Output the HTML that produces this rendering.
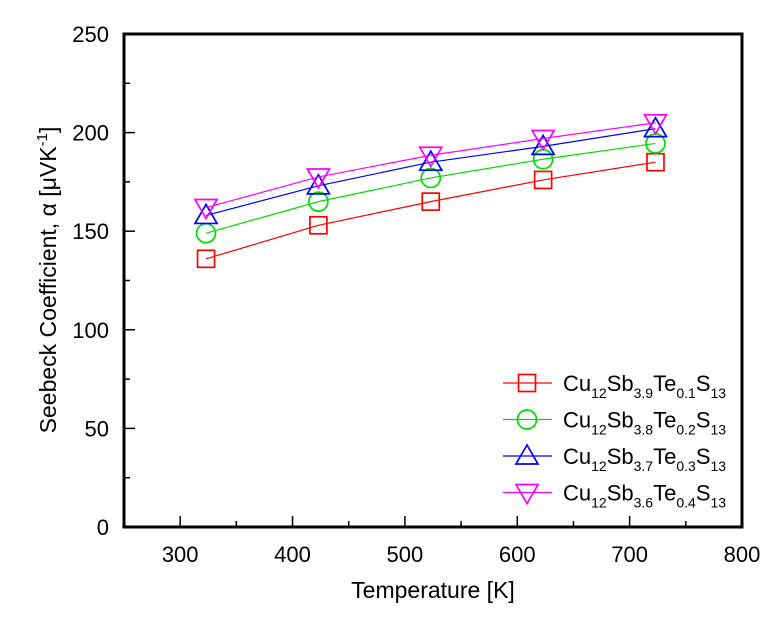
<!DOCTYPE html>
<html><head><meta charset="utf-8"><style>
body{margin:0;background:#fff;}
svg text{font-family:"Liberation Sans",Arial,sans-serif;}
</style></head><body>
<svg id="chart" width="783" height="612" viewBox="0 0 783 612"></svg>
<script>
const temps=[323,423,523,623,723];
const s1=[136,153,165,176,185];
const s2=[149,165,177,186.5,194.5];
const s3=[158,173,185,193,202];
const s4=[162,177.5,188.5,197,205];
const xTicks=[300,400,500,600,700,800];
const yTicks=[0,50,100,150,200,250];
const names=[["12","3.9","0.1"],["12","3.8","0.2"],["12","3.7","0.3"],["12","3.6","0.4"]];
const X0=124,X1=742,Y0=527,Y1=34;
const xs=v=>X0+(v-250)/(800-250)*(X1-X0);
const ys=v=>Y0-(v/250)*(Y0-Y1);
const svg=document.getElementById('chart');
const NS='http://www.w3.org/2000/svg';
function mk(t,a,p){const e=document.createElementNS(NS,t);for(const k in a)e.setAttribute(k,a[k]);(p||svg).appendChild(e);return e;}
const frame=mk('rect',{x:X0,y:Y1,width:X1-X0,height:Y0-Y1,fill:'none',stroke:'#000','stroke-width':3});


for(let v=250;v<=800;v+=50){
  if(v===250||v===800)continue;
  const big=v%100===0;
  const t=mk('line',{x1:xs(v),x2:xs(v),y1:Y0,y2:Y0-(big?11:6),stroke:'#000','stroke-width':1.5});
  
  
}
xTicks.forEach(v=>{
  const t=mk('text',{x:xs(v),y:Y0+35,'text-anchor':'middle','font-size':22});
  t.textContent=v;
  
  
});
for(let v=25;v<250;v+=25){
  const big=v%50===0;
  const t=mk('line',{x1:X0,x2:X0+(big?11:6),y1:ys(v),y2:ys(v),stroke:'#000','stroke-width':1.5});
  
  
}
yTicks.forEach(v=>{
  const t=mk('text',{x:X0-15,y:ys(v)+8,'text-anchor':'end','font-size':22});
  t.textContent=v;
  
  
});
const xt=mk('text',{x:433,y:598,'text-anchor':'middle','font-size':23});
xt.textContent='Temperature [K]';


const yt=mk('text',{x:0,y:0,'text-anchor':'middle','font-size':23,transform:'translate(56,280) rotate(-90)'});
yt.innerHTML='Seebeck Coefficient, α [μVK<tspan dy="-9" font-size="15">-1</tspan><tspan dy="9">]</tspan>';


const colors=['#ff0000','#00dd00','#0000ff','#ff00ff'];
const kinds=['sq','ci','tu','td'];
function marker(kind,cx,cy,c,g){
  let e;
  if(kind==='sq')e=mk('rect',{x:cx-8.5,y:cy-8.5,width:17,height:17,fill:'none',stroke:c,'stroke-width':1.7},g);
  else if(kind==='ci')e=mk('circle',{cx:cx,cy:cy,r:9.5,fill:'none',stroke:c,'stroke-width':1.7},g);
  else if(kind==='tu')e=mk('polygon',{points:`${cx},${cy-11} ${cx-11},${cy+8} ${cx+11},${cy+8}`,fill:'none',stroke:c,'stroke-width':1.7},g);
  else e=mk('polygon',{points:`${cx},${cy+11} ${cx-11},${cy-8} ${cx+11},${cy-8}`,fill:'none',stroke:c,'stroke-width':1.7},g);
  return e;
}
[s1,s2,s3,s4].forEach((s,i)=>{
  const g=mk('g',{});
  
  
  const ln=mk('polyline',{points:temps.map((t,j)=>xs(t)+','+ys(s[j])).join(' '),fill:'none',stroke:colors[i],'stroke-width':1.2},g);
  
  
  temps.forEach((t,j)=>{
    const m=marker(kinds[i],xs(t),ys(s[j]),colors[i],g);
    
    
  });
  const ly=383+i*36.5;
  const lg=mk('g',{});
  
  
  mk('line',{x1:503,x2:552,y1:ly,y2:ly,stroke:colors[i],'stroke-width':1.2},lg);
  marker(kinds[i],527,ly,colors[i],lg);
  const tx=mk('text',{x:563,y:ly+8,'font-size':22},lg);
  const n=names[i];
  tx.innerHTML=`Cu<tspan dy="7" font-size="14">${n[0]}</tspan><tspan dy="-7">Sb</tspan><tspan dy="7" font-size="14">${n[1]}</tspan><tspan dy="-7">Te</tspan><tspan dy="7" font-size="14">${n[2]}</tspan><tspan dy="-7">S</tspan><tspan dy="7" font-size="14">13</tspan>`;
});
</script>
</body></html>
